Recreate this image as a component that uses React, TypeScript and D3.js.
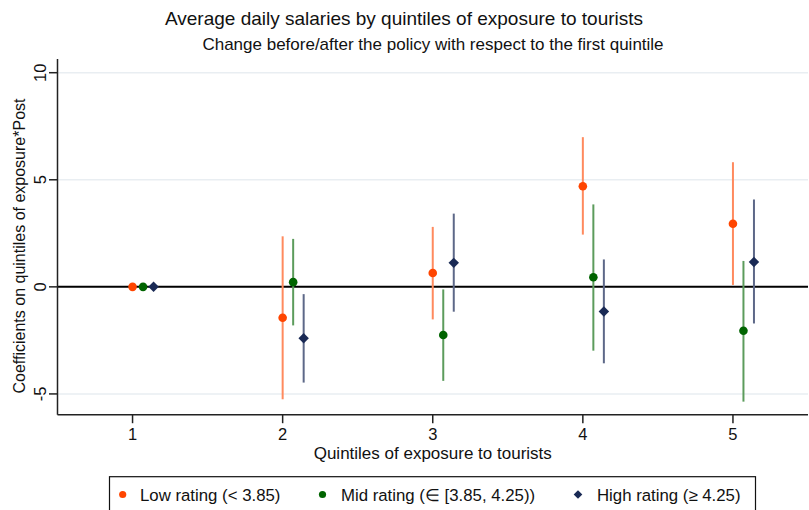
import React from "react";
import * as d3 from "d3";

const quintiles = [1, 2, 3, 4, 5];
const seriesNames = ["Low rating (< 3.85)", "Mid rating (\u2208 [3.85, 4.25))", "High rating (\u2265 4.25)"];
const lowCoef = [0, -1.44, 0.65, 4.70, 2.95];
const lowLo = [0, -5.25, -1.52, 2.44, 0.09];
const lowHi = [0, 2.36, 2.80, 6.99, 5.82];
const midCoef = [0, 0.22, -2.25, 0.45, -2.05];
const midLo = [0, -1.80, -4.39, -2.98, -5.36];
const midHi = [0, 2.24, -0.12, 3.85, 1.21];
const highCoef = [0, -2.40, 1.12, -1.15, 1.16];
const highLo = [0, -4.47, -1.16, -3.57, -1.71];
const highHi = [0, -0.34, 3.42, 1.28, 4.08];
const yTicks = [-5, 0, 5, 10];
const xTicks = [1, 2, 3, 4, 5];

const series = [
  { name: seriesNames[0], coef: lowCoef, lo: lowLo, hi: lowHi, offset: 0, color: "#ff4500", ci: "#ff8a5e", shape: "circle" },
  { name: seriesNames[1], coef: midCoef, lo: midLo, hi: midHi, offset: 0.07, color: "#006400", ci: "#5c9c5c", shape: "circle" },
  { name: seriesNames[2], coef: highCoef, lo: highLo, hi: highHi, offset: 0.14, color: "#1a2a55", ci: "#5d6888", shape: "diamond" },
];

const FONT = "'Liberation Sans', Arial, sans-serif";

export default function App() {
  const W = 809, H = 510;
  const x = d3.scaleLinear().domain([0.5, 5.5]).range([57.5, 808]);
  const y = d3.scaleLinear().domain([-5.97, 10.64]).range([414.7, 59]);
  const left = 57.5, right = 808, top = 59, bottom = 414.7;
  const diamond = (s: number) => d3.symbol().type(d3.symbolDiamond2 ?? d3.symbolDiamond).size(s)();
  const circleSize = 4.3;

  const legendItems = [
    { mx: 122.7, tx: 140 },
    { mx: 322.5, tx: 341 },
    { mx: 578, tx: 597 },
  ];

  return (
    <svg width={W} height={H} style={{ position: "absolute", left: 0, top: 0, background: "#fff" }} fontFamily={FONT}>
      <rect x={0} y={0} width={W} height={H} fill="#fff" />
      <text x={404} y={25} textAnchor="middle" fontSize={19} fill="#111">Average daily salaries by quintiles of exposure to tourists</text>
      <text x={433} y={50} textAnchor="middle" fontSize={17} fill="#111">Change before/after the policy with respect to the first quintile</text>

      {yTicks.filter(t => t !== 0).map(t => (
        <line key={"g" + t} x1={left} x2={right} y1={y(t)} y2={y(t)} stroke="#e9eef2" strokeWidth={1.6} />
      ))}
      <line x1={left} x2={right} y1={y(0)} y2={y(0)} stroke="#000" strokeWidth={2} />

      {/* axes */}
      <line x1={left} x2={left} y1={top} y2={bottom} stroke="#222" strokeWidth={1.5} />
      <line x1={left} x2={right} y1={bottom} y2={bottom} stroke="#222" strokeWidth={1.5} />
      {yTicks.map(t => (
        <g key={"yt" + t}>
          <line x1={left - 8.5} x2={left} y1={y(t)} y2={y(t)} stroke="#222" strokeWidth={1.5} />
          <text transform={`translate(46,${y(t)}) rotate(-90)`} textAnchor="middle" fontSize={16.5} fill="#111">{t}</text>
        </g>
      ))}
      {xTicks.map(t => (
        <g key={"xt" + t}>
          <line x1={x(t)} x2={x(t)} y1={bottom} y2={bottom + 8.5} stroke="#222" strokeWidth={1.5} />
          <text x={x(t)} y={439.5} textAnchor="middle" fontSize={16.5} fill="#111">{t}</text>
        </g>
      ))}
      <text transform={`translate(25,246) rotate(-90)`} textAnchor="middle" fontSize={16} fill="#111">Coefficients on quintiles of exposure*Post</text>
      <text x={(left + right) / 2} y={459} textAnchor="middle" fontSize={17} fill="#111">Quintiles of exposure to tourists</text>

      {/* CIs */}
      {series.map(s => quintiles.map((q, i) => (
        s.lo[i] !== s.hi[i] ? (
          <line key={s.name + "ci" + q} x1={x(q + s.offset)} x2={x(q + s.offset)} y1={y(s.lo[i])} y2={y(s.hi[i])} stroke={s.ci} strokeWidth={2} />
        ) : null
      )))}
      {/* points */}
      {series.map(s => quintiles.map((q, i) => (
        s.shape === "circle" ? (
          <circle key={s.name + "p" + q} cx={x(q + s.offset)} cy={y(s.coef[i])} r={circleSize} fill={s.color} />
        ) : (
          <path key={s.name + "p" + q} d={diamond(70) || ""} transform={`translate(${x(q + s.offset)},${y(s.coef[i])})`} fill={s.color} />
        )
      )))}

      {/* legend */}
      <rect x={109.5} y={476.7} width={646} height={45} fill="#fff" stroke="#111" strokeWidth={1.2} />
      {series.map((s, i) => (
        <g key={"lg" + i}>
          {s.shape === "circle" ? (
            <circle cx={legendItems[i].mx} cy={494.5} r={3.6} fill={s.color} />
          ) : (
            <path d={diamond(48) || ""} transform={`translate(${legendItems[i].mx},${494.5})`} fill={s.color} />
          )}
          <text x={legendItems[i].tx} y={500.5} fontSize={16.8} fill="#111">{s.name}</text>
        </g>
      ))}
    </svg>
  );
}
